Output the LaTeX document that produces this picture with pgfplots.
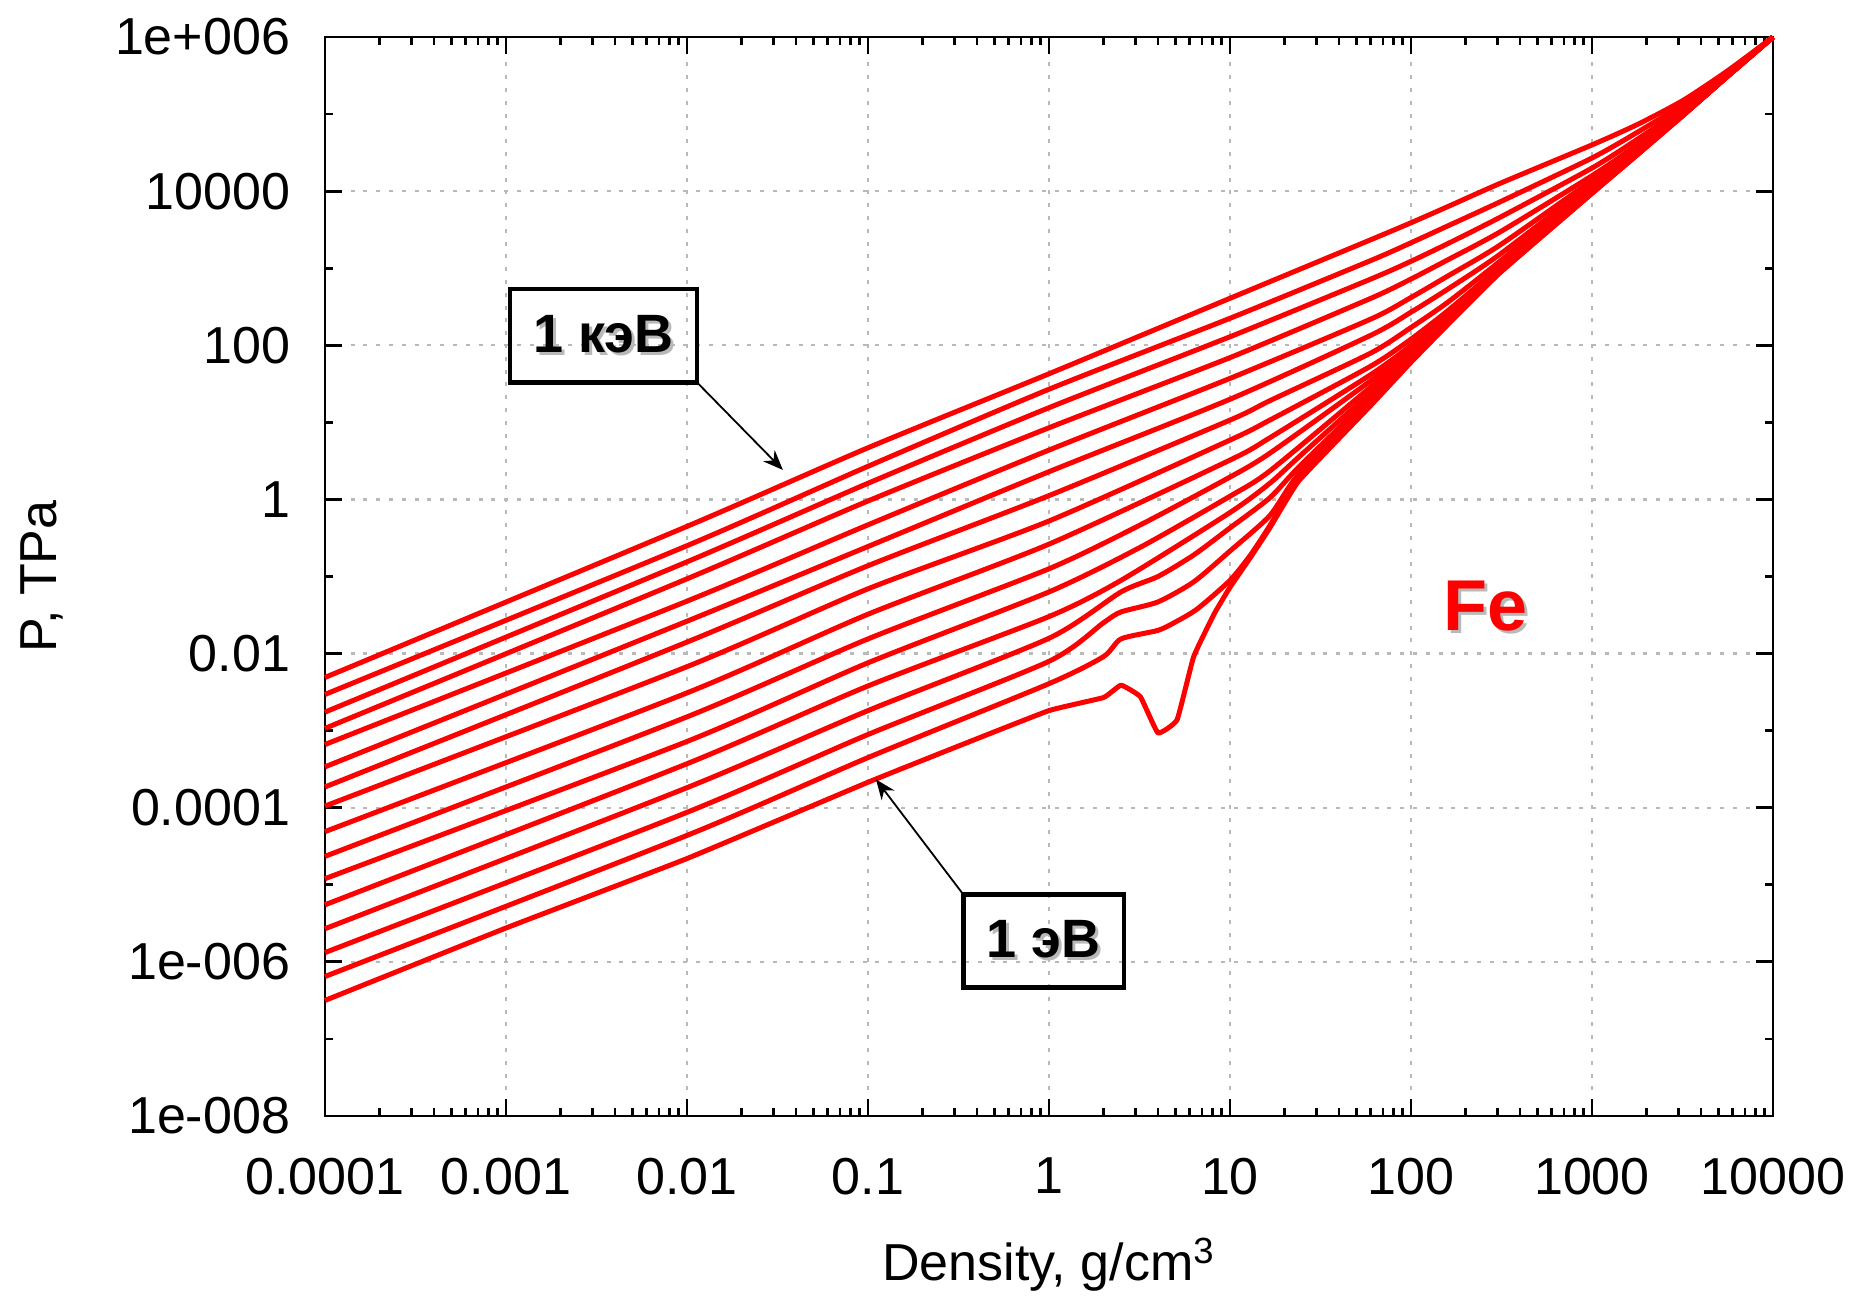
\documentclass[border=0pt]{standalone}
\usepackage{fontspec}
\setmainfont{Liberation Sans}
\usepackage{pgfplots}
\pgfplotsset{compat=1.18}
\usetikzlibrary{arrows.meta}

\pgfplotsset{fecurve/.style={red, line width=1.25pt, line join=round, mark=none, smooth, tension=0.4}}

\newcommand{\shadowtext}[2]{\makebox[0pt][l]{\hspace{0.7pt}\raisebox{-0.7pt}{\textcolor{gray!55}{#2}}}\textcolor{#1}{#2}}

\begin{document}
\begin{tikzpicture}
\begin{axis}[
  scale only axis, width=362pt, height=269.75pt,
  xmode=log, ymode=log,
  xmin=1e-4, xmax=1e4, ymin=1e-8, ymax=1e6,
  xtick={1e-4,1e-3,0.01,0.1,1,10,100,1000,10000},
  xticklabels={0.0001,0.001,0.01,0.1,1,10,100,1000,10000},
  ytick={1e-8,1e-6,1e-4,0.01,1,100,10000,1e6},
  yticklabels={1e-008,1e-006,0.0001,0.01,1,100,10000,1e+006},
  minor ytick={1e-7,1e-5,1e-3,0.1,10,1000,1e5},
  minor xtick={2e-4,3e-4,4e-4,5e-4,6e-4,7e-4,8e-4,9e-4,
               2e-3,3e-3,4e-3,5e-3,6e-3,7e-3,8e-3,9e-3,
               0.02,0.03,0.04,0.05,0.06,0.07,0.08,0.09,
               0.2,0.3,0.4,0.5,0.6,0.7,0.8,0.9,
               2,3,4,5,6,7,8,9,
               20,30,40,50,60,70,80,90,
               200,300,400,500,600,700,800,900,
               2000,3000,4000,5000,6000,7000,8000,9000},
  tick align=inside, major tick length=4.2pt, minor tick length=2.1pt,
  grid=major,
  major grid style={gray!55, dash pattern=on 1pt off 2.2pt, line width=0.55pt},
  axis line style={line width=0.7pt},
  tick style={black, line width=0.7pt},
  ticklabel style={font=\fontsize{13}{15}\selectfont},
  /pgf/number format/assume math mode=true,
  xticklabel style={anchor=north, yshift=-7pt},
  yticklabel style={anchor=east, xshift=-5.2pt},
  every axis x label/.style={at={(axis description cs:0.5,-0.138)}, anchor=center, inner sep=0pt},
  every axis y label/.style={at={(axis description cs:-0.1954,0.5)}, anchor=center, rotate=90, inner sep=0pt},
  label style={font=\fontsize{13}{15}\selectfont},
  xlabel={Density, g/cm\textsuperscript{3}},
  ylabel={P, TPa},
  clip=false,
]
% 1 keV (top) ... 1 eV (bottom)
\addplot[fecurve] coordinates {(1e-4,4.90e-3) (0.01,0.447) (0.1,4.68) (1,42.7) (10,407) (60,2344) (100,3890) (160,6310) (310,12590) (1000,39810) (1800,74130) (3200,151400) (5600,363100) (10000,1e6)};
\addplot[fecurve] coordinates {(1e-4,2.95e-3) (0.01,0.251) (0.1,2.69) (1,26.9) (10,224) (60,1259) (100,2138) (160,3548) (310,7244) (1000,26920) (1800,58880) (3200,134900) (5600,346700) (10000,1e6)};
\addplot[fecurve] coordinates {(1e-4,1.74e-3) (0.01,0.155) (0.1,1.62) (1,15.5) (10,129) (60,724) (100,1230) (160,2089) (310,4571) (1000,19950) (1800,47860) (3200,120200) (5600,331100) (10000,1e6)};
\addplot[fecurve] coordinates {(1e-4,1.07e-3) (0.01,0.0933) (0.1,0.955) (1,8.51) (10,69.2) (60,407) (100,724) (160,1288) (310,2951) (1000,15850) (1800,40740) (3200,112200) (5600,323600) (10000,1e6)};
\addplot[fecurve] coordinates {(1e-4,6.61e-4) (0.01,0.0479) (0.1,0.468) (1,4.37) (10,37.2) (60,219) (100,417) (160,794) (310,1995) (1000,13800) (1800,38020) (3200,107200) (5600,316200) (10000,1e6)};
\addplot[fecurve] coordinates {(1e-4,3.39e-4) (0.01,0.0263) (0.1,0.245) (1,2.29) (10,19.95) (60,135) (100,269) (160,537) (310,1514) (1000,12590) (1800,37150) (3200,104700) (5600,316200) (10000,1e6)};
\addplot[fecurve] coordinates {(1e-4,1.86e-4) (0.01,0.0141) (0.1,0.138) (1,1.12) (10,10.7) (16.6,19.1) (60,79.4) (100,170) (160,363) (310,1230) (1000,11750) (1800,36310) (3200,102300) (5600,309000) (10000,1e6)};
\addplot[fecurve] coordinates {(1e-4,1.05e-4) (0.01,6.76e-3) (0.1,0.0692) (1,0.525) (10,5.89) (16.6,10.7) (60,53.7) (100,120) (160,282) (310,1047) (1000,11220) (1800,34670) (3200,100000) (5600,309000) (10000,1e6)};
\addplot[fecurve] coordinates {(1e-4,4.90e-5) (0.01,3.09e-3) (0.1,0.0324) (1,0.263) (10,3.24) (16.6,6.31) (60,41.7) (100,100) (160,257) (310,1000) (1000,10720) (1800,33880) (3200,98860) (5600,309000) (10000,1e6)};
\addplot[fecurve] coordinates {(1e-4,2.34e-5) (0.01,1.51e-3) (0.1,0.0155) (1,0.126) (3.2,0.468) (10,1.95) (16.6,3.98) (60,34.7) (100,87.1) (160,240) (310,977) (1000,10470) (1800,33110) (3200,98860) (5600,309000) (10000,1e6)};
\addplot[fecurve] coordinates {(1e-4,1.20e-5) (0.01,7.24e-4) (0.1,7.59e-3) (1,0.0631) (3.2,0.240) (10,1.10) (16.6,2.34) (60,28.8) (100,77.6) (160,224) (310,955) (1000,10230) (1800,32360) (3200,98860) (5600,309000) (10000,1e6)};
\addplot[fecurve] coordinates {(1e-4,5.50e-6) (0.01,3.72e-4) (0.1,3.80e-3) (1,0.0302) (2.5,0.0891) (10,0.676) (16.6,1.62) (24,3.55) (60,24.5) (100,70.8) (160,209) (310,933) (1000,10000) (1800,31620) (3200,98860) (5600,309000) (10000,1e6)};
\addplot[fecurve] coordinates {(1e-4,2.69e-6) (0.01,1.82e-4) (0.1,1.82e-3) (1,0.0158) (2.5,0.0631) (4,0.1) (6.3,0.19) (10,0.427) (16.6,1.05) (24,2.63) (60,21.4) (100,66.1) (160,200) (310,912) (1000,9772) (1800,31260) (3200,97720) (5600,309000) (10000,1e6)};
\addplot[fecurve] coordinates {(1e-4,1.32e-6) (0.01,8.71e-5) (0.1,8.91e-4) (1,7.94e-3) (2,0.0251) (2.5,0.0347) (4,0.0468) (6.3,0.0851) (10,0.214) (16.6,0.617) (24,2.14) (60,19.5) (100,63.1) (160,195) (310,891) (1000,9550) (1800,30900) (3200,97720) (5600,309000) (10000,1e6)};
\addplot[fecurve] coordinates {(1e-4,6.46e-7) (0.01,4.37e-5) (0.1,4.47e-4) (1,4.07e-3) (2,9.12e-3) (2.5,0.0155) (4,0.0200) (5,0.0257) (6.6,0.0380) (10,0.0891) (13,0.191) (16.6,0.457) (24,1.86) (60,17.8) (100,61.7) (160,190.5) (310,881) (1000,9441) (1800,30550) (3200,97720) (5600,309000) (10000,1e6)};
\addplot[fecurve, tension=0.2] coordinates {(1e-4,3.16e-7) (1e-3,2.75e-6) (0.01,2.19e-5) (0.1,2.14e-4) (0.316,6.31e-4) (1,1.82e-3) (2,2.69e-3) (2.5,3.89e-3) (3.2,2.75e-3) (4,9.33e-4) (5.1,1.38e-3) (6.3,9.12e-3) (8.2,0.0331) (10,0.0724) (13,0.178) (16.6,0.427) (24,1.74) (60,16.6) (100,60.3) (160,186) (310,871) (1000,9333) (1800,30200) (3200,96600) (5600,309000) (10000,1e6)};

% annotations
\draw[line width=1.2pt] (axis cs:1.052e-3,33.1) rectangle (axis cs:1.135e-2,537);
\node[font=\bfseries\fontsize{13.5}{15}\selectfont, inner sep=0pt] at (axis cs:3.455e-3,133.4) {\shadowtext{black}{1 кэВ}};
\draw[line width=0.45pt, -{Stealth[length=5pt,width=4pt]}] (axis cs:1.135e-2,33.1) -- (axis cs:0.0339,2.41);

\draw[line width=1.2pt] (axis cs:0.3357,4.68e-7) rectangle (axis cs:2.594,7.52e-6);
\node[font=\bfseries\fontsize{13.5}{15}\selectfont, inner sep=0pt] at (axis cs:0.933,1.875e-6) {\shadowtext{black}{1 эВ}};
\draw[line width=0.45pt, -{Stealth[length=5pt,width=4pt]}] (axis cs:0.3357,7.52e-6) -- (axis cs:0.1107,2.33e-4);

\node[font=\bfseries\fontsize{18}{20}\selectfont, inner sep=0pt] at (axis cs:259,0.0398) {\shadowtext{red}{Fe}};
\end{axis}
\path ([xshift=-81.25pt,yshift=-45.5pt]current axis.south west) rectangle ([xshift=23.5pt,yshift=9.25pt]current axis.north east);
\end{tikzpicture}
\end{document}
